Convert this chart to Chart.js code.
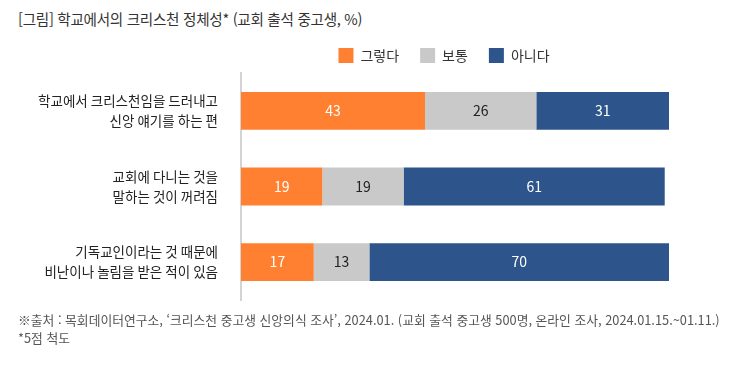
<!DOCTYPE html>
<html lang="ko">
<head>
<meta charset="utf-8">
<script src="https://cdn.jsdelivr.net/npm/chart.js@4"></script>
<style>
    html, body { margin: 0; padding: 0; background: #fff; overflow: hidden; }
    body { width: 738px; height: 367px; position: relative; font-family: "Noto Sans CJK KR", "Noto Sans", sans-serif; }
    #title { position: absolute; left: 18px; top: 8px; font-size: 14.6px; color: #333; letter-spacing: -0.3px; white-space: nowrap; }
    #note { position: absolute; left: 18px; top: 311px; font-size: 12.8px; line-height: 18px; color: #555; letter-spacing: 0px; white-space: nowrap; }
    #wrap { position: absolute; left: 0; top: 0; width: 738px; height: 367px; }
</style>
</head>
<body>
<div id="title">[그림] 학교에서의 크리스천 정체성* (교회 출석 중고생, %)</div>
<div id="wrap"><canvas id="chart"></canvas></div>
<div id="note">※출처 : 목회데이터연구소, ‘크리스천 중고생 신앙의식 조사’, 2024.01. (교회 출석 중고생 500명, 온라인 조사, 2024.01.15.~01.11.)<br>*5점 척도</div>

<script>
var categories = [
    ["학교에서 크리스천임을 드러내고", "신앙 얘기를 하는 편"],
    ["교회에 다니는 것을", "말하는 것이 꺼려짐"],
    ["기독교인이라는 것 때문에", "비난이나 놀림을 받은 적이 있음"]
];
var seriesNames = ["그렇다", "보통", "아니다"];
var yesValues = [43, 19, 17];
var neutralValues = [26, 19, 13];
var noValues = [31, 61, 70];

var colors = ["#FF8030", "#C9C9C9", "#2D558B"];
var labelColors = ["#ffffff", "#222222", "#ffffff"];

// draws the number in the middle of each bar piece
var valueLabels = {
    id: "valueLabels",
    afterDatasetsDraw: function (chart) {
        var ctx = chart.ctx;
        ctx.save();
        ctx.font = "14px 'Noto Sans CJK KR', Roboto, sans-serif";
        ctx.textAlign = "center";
        ctx.textBaseline = "middle";
        chart.data.datasets.forEach(function (ds, i) {
            var meta = chart.getDatasetMeta(i);
            meta.data.forEach(function (bar, j) {
                var cx = (bar.x + bar.base) / 2;
                ctx.fillStyle = labelColors[i];
                ctx.fillText(ds.data[j], cx, bar.y);
            });
        });
        ctx.restore();
    }
};

// move the legend so it sits where the original one is
var legendShift = {
    id: "legendShift",
    afterLayout: function (chart) {
        var lg = chart.legend;
        if (!lg) return;
        var shift = 444 - (lg.left + lg.right) / 2;
        lg.left += shift;
        lg.right += shift;
    }
};

var ctx = document.getElementById("chart");

new Chart(ctx, {
    type: "bar",
    data: {
        labels: categories,
        datasets: [
            { label: seriesNames[0], data: yesValues, backgroundColor: colors[0] },
            { label: seriesNames[1], data: neutralValues, backgroundColor: colors[1] },
            { label: seriesNames[2], data: noValues, backgroundColor: colors[2] }
        ]
    },
    options: {
        indexAxis: "y",
        responsive: true,
        maintainAspectRatio: false,
        animation: false,
        datasets: {
            bar: { barPercentage: 0.5, categoryPercentage: 1, borderWidth: 0 }
        },
        layout: {
            padding: { top: 27, right: 69, bottom: 67, left: 0 }
        },
        plugins: {
            legend: {
                position: "top",
                fullSize: false,
                labels: {
                    boxWidth: 15,
                    boxHeight: 15,
                    padding: 21,
                    color: "#333",
                    font: { family: "'Noto Sans CJK KR', sans-serif", size: 14 }
                }
            },
            tooltip: { enabled: false }
        },
        scales: {
            x: {
                stacked: true,
                display: false,
                min: 0,
                max: 100
            },
            y: {
                stacked: true,
                grid: { display: false, drawTicks: false },
                border: { display: true, color: "#d4d4d4", width: 2 },
                afterFit: function (scale) { scale.width = 241; },
                ticks: {
                    padding: 23,
                    color: "#222",
                    font: { family: "'Noto Sans CJK KR', sans-serif", size: 13.5, lineHeight: "20px" }
                }
            }
        }
    },
    plugins: [valueLabels, legendShift]
});
</script>
</body>
</html>
